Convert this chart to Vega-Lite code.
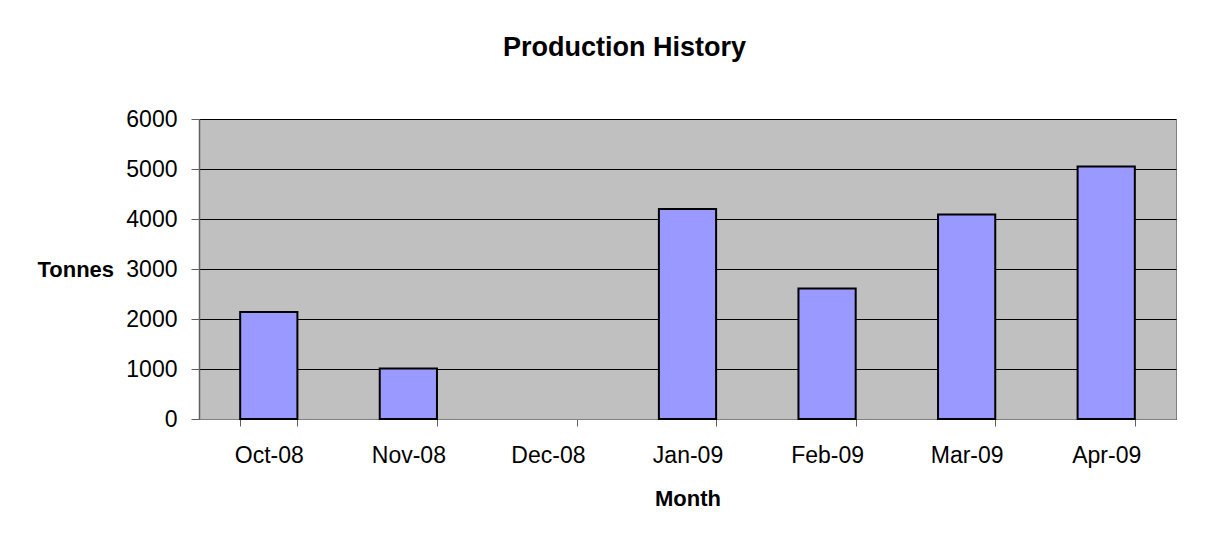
{
  "$schema": "https://vega.github.io/schema/vega-lite/v6.json",
  "autosize": {"type": "none"},
  "padding": {"left": 199, "top": 119, "right": 44, "bottom": 116},
  "width": 977,
  "height": 300,
  "background": "white",
  "title": {
    "text": "Production History",
    "font": "Liberation Sans",
    "fontSize": 27,
    "fontWeight": "bold",
    "color": "black",
    "anchor": "middle",
    "baseline": "alphabetic",
    "offset": 25,
    "dx": -63
  },
  "data": {
    "values": [
      {"Month": "Oct-08", "Tonnes": 2140},
      {"Month": "Nov-08", "Tonnes": 1010},
      {"Month": "Dec-08", "Tonnes": 0},
      {"Month": "Jan-09", "Tonnes": 4200},
      {"Month": "Feb-09", "Tonnes": 2610},
      {"Month": "Mar-09", "Tonnes": 4090},
      {"Month": "Apr-09", "Tonnes": 5050}
    ]
  },
  "mark": {"type": "bar", "fill": "#9999FF", "stroke": "black"},
  "encoding": {
    "x": {
      "field": "Month",
      "type": "nominal",
      "sort": null,
      "scale": {"paddingInner": 0.59, "paddingOuter": 0.295},
      "axis": {
        "title": "Month",
        "labelAngle": 0,
        "grid": false,
        "tickBand": "extent",
        "tickSize": 7,
        "tickColor": "#606060",
        "domainColor": "#808080",
        "labelFont": "Liberation Sans",
        "labelFontSize": 23,
        "labelColor": "black",
        "labelPadding": 18,
        "titleFont": "Liberation Sans",
        "titleFontSize": 22,
        "titleFontWeight": "bold",
        "titleColor": "black",
        "titleBaseline": "alphabetic",
        "titleY": 86
      }
    },
    "y": {
      "field": "Tonnes",
      "type": "quantitative",
      "scale": {"domain": [0, 6000], "nice": false},
      "axis": {
        "title": "Tonnes",
        "values": [0, 1000, 2000, 3000, 4000, 5000, 6000],
        "format": "d",
        "grid": true,
        "gridColor": "black",
        "gridWidth": 1,
        "gridOpacity": 1,
        "tickSize": 8,
        "tickColor": "#606060",
        "domainColor": "#606060",
        "domainWidth": 1.5,
        "labelFont": "Liberation Sans",
        "labelFontSize": 23,
        "labelColor": "black",
        "labelPadding": 14,
        "titleFont": "Liberation Sans",
        "titleFontSize": 22,
        "titleFontWeight": "bold",
        "titleColor": "black",
        "titleAngle": 0,
        "titleAlign": "left",
        "titleBaseline": "middle",
        "titleX": -162,
        "titleY": 150
      }
    },
    "strokeWidth": {
      "condition": {"test": "datum.Tonnes === 0", "value": 0},
      "value": 2
    }
  },
  "config": {
    "view": {"fill": "#C0C0C0", "stroke": "#808080", "strokeWidth": 1}
  }
}
